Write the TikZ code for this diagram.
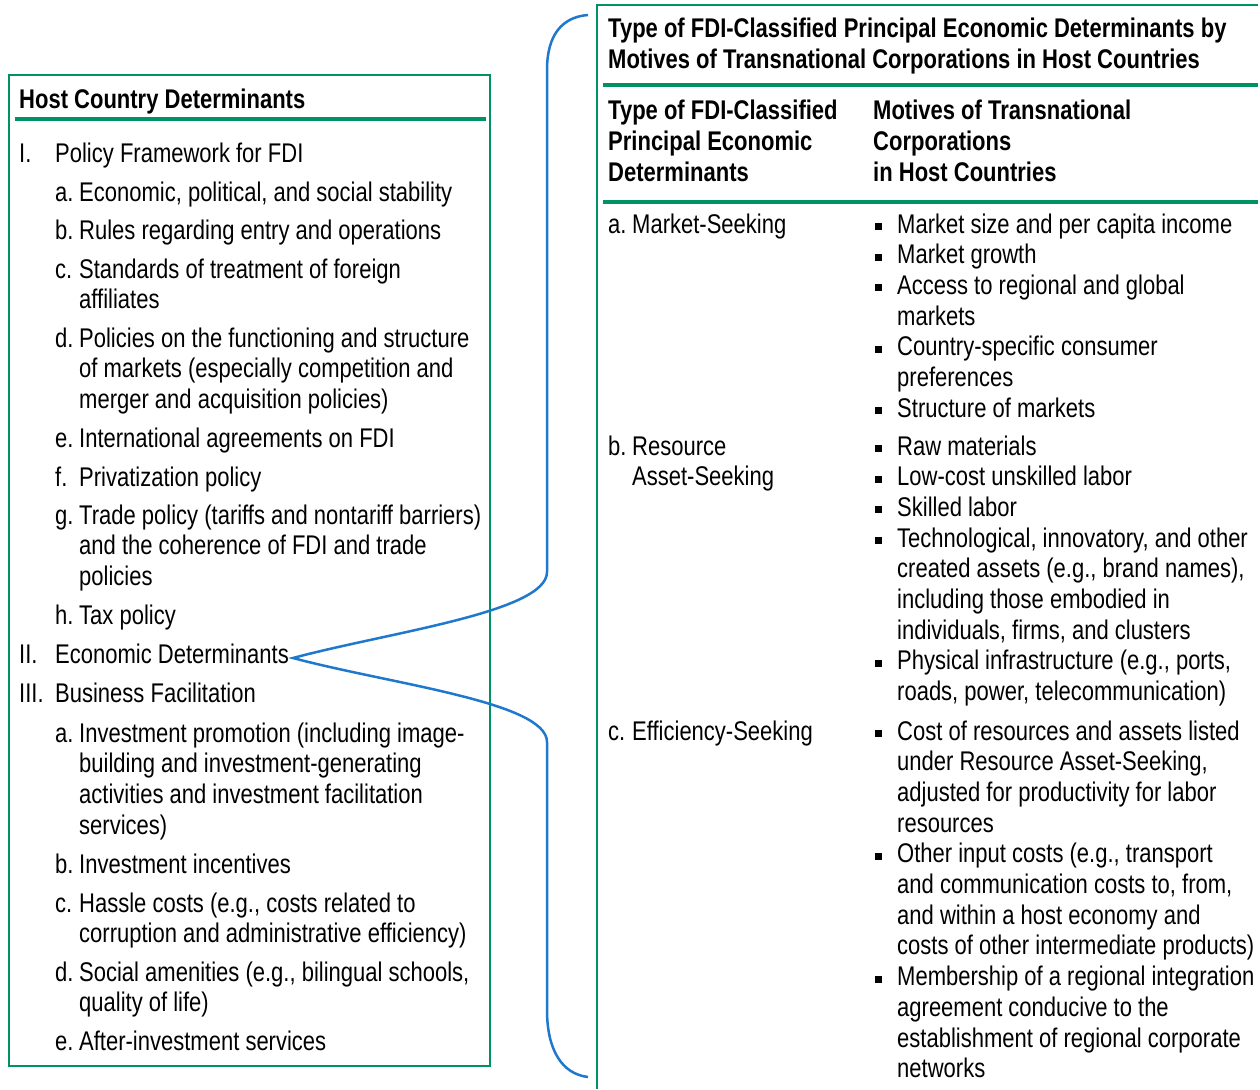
\documentclass[tikz,border=0pt]{standalone}
\usepackage{fontspec}
\setmainfont{Liberation Sans}[FakeStretch=0.815]
\definecolor{hostgreen}{RGB}{0,146,100}
\definecolor{braceblue}{RGB}{30,120,205}
% lines stacked from the first baseline
\newcommand{\stk}[1]{\begin{tabular}[t]{@{}l@{}}#1\end{tabular}}
% item labels hang left of the text start
\newcommand{\lt}[1]{\llap{\makebox[24pt][l]{#1}}}
\newcommand{\rn}[1]{\llap{\makebox[36pt][l]{#1}}}
\newcommand{\sqb}{\llap{\rule[3pt]{7pt}{7pt}\hspace{15pt}}}
\tikzset{
  txt/.style={anchor=base west, inner sep=0pt},
  hd/.style={txt, font=\fontsize{27}{30.7}\selectfont\bfseries},
  frame/.style={draw=hostgreen, line width=2pt},
  greenrule/.style={draw=hostgreen, line width=3.5pt},
  brace/.style={draw=braceblue, line width=2.5pt}
}
\begin{document}
\begin{tikzpicture}[x=1pt, y=-1pt, every node/.style={font=\fontsize{27}{30.7}\selectfont}]
	\useasboundingbox (0,0) rectangle (1260,1089);
	% left box
	\draw[frame] (9,75) rectangle (490,1066);
	\node[hd] (hcd) at (19,109) {Host Country Determinants};
	\draw[greenrule] (15,119) -- (486,119);
	\node[txt] (pf) at (55,162) {\rn{I.}Policy Framework for FDI};
	\node[txt] (pa) at (79,201) {\lt{a.}Economic, political, and social stability};
	\node[txt] (pb) at (79,239) {\lt{b.}Rules regarding entry and operations};
	\node[txt] (pc) at (79,278) {\stk{\lt{c.}Standards of treatment of foreign\\affiliates}};
	\node[txt] (pd) at (79,347) {\stk{\lt{d.}Policies on the functioning and structure\\of markets (especially competition and\\merger and acquisition policies)}};
	\node[txt] (pe) at (79,447) {\lt{e.}International agreements on FDI};
	\node[txt] (pp) at (79,486) {\lt{f.}Privatization policy};
	\node[txt] (pg) at (79,524) {\stk{\lt{g.}Trade policy (tariffs and nontariff barriers)\\and the coherence of FDI and trade\\policies}};
	\node[txt] (ph) at (79,624) {\lt{h.}Tax policy};
	\node[txt] (econ) at (55,663) {\rn{II.}Economic Determinants};
	\node[txt] (bf) at (55,702) {\rn{III.}Business Facilitation};
	\node[txt] (ba) at (79,742) {\stk{\lt{a.}Investment promotion (including image-\\building and investment-generating\\activities and investment facilitation\\services)}};
	\node[txt] (bb) at (79,873) {\lt{b.}Investment incentives};
	\node[txt] (bc) at (79,912) {\stk{\lt{c.}Hassle costs (e.g., costs related to\\corruption and administrative efficiency)}};
	\node[txt] (bd) at (79,981) {\stk{\lt{d.}Social amenities (e.g., bilingual schools,\\quality of life)}};
	\node[txt] (be) at (79,1050) {\lt{e.}After-investment services};
	% right box, cut off at the right and bottom
	\draw[frame] (597,1089) -- (597,5) -- (1258,5);
	\node[hd] (title) at (608,37.5) {\stk{Type of FDI-Classified Principal Economic Determinants by\\Motives of Transnational Corporations in Host Countries}};
	\draw[greenrule] (603,85) -- (1258,85);
	\node[hd] (colA) at (608,120) {\stk{Type of FDI-Classified\\Principal Economic\\Determinants}};
	\node[hd] (colB) at (873,120) {\stk{Motives of Transnational\\Corporations\\in Host Countries}};
	\draw[greenrule] (603,202) -- (1258,202);
	\node[txt] (ms) at (632,233) {\lt{a.}Market-Seeking};
	\node[txt] (msl) at (897,233) {\stk{\sqb Market size and per capita income\\\sqb Market growth\\\sqb Access to regional and global\\markets\\\sqb Country-specific consumer\\preferences\\\sqb Structure of markets}};
	\node[txt] (rs) at (632,455) {\stk{\lt{b.}Resource\\Asset-Seeking}};
	\node[txt] (rsl) at (897,455) {\stk{\sqb Raw materials\\\sqb Low-cost unskilled labor\\\sqb Skilled labor\\\sqb Technological, innovatory, and other\\created assets (e.g., brand names),\\including those embodied in\\individuals, firms, and clusters\\\sqb Physical infrastructure (e.g., ports,\\roads, power, telecommunication)}};
	\node[txt] (es) at (632,740) {\lt{c.}Efficiency-Seeking};
	\node[txt] (esl) at (897,740) {\stk{\sqb Cost of resources and assets listed\\under Resource Asset-Seeking,\\adjusted for productivity for labor\\resources\\\sqb Other input costs (e.g., transport\\and communication costs to, from,\\and within a host economy and\\costs of other intermediate products)\\\sqb Membership of a regional integration\\agreement conducive to the\\establishment of regional corporate\\networks}};
	% brace from Economic Determinants to the right box
	\coordinate (tip) at ([shift={(4,-5)}]econ.base east);
	\draw[brace] (588,15) .. controls (562,17) and (547,35) .. (547,70) -- (547,572) .. controls (547,612) and (390,632) .. (tip) .. controls (390,684) and (547,702) .. (547,742) -- (547,1010) .. controls (547,1050) and (562,1074) .. (588,1077);
\end{tikzpicture}
\end{document}
